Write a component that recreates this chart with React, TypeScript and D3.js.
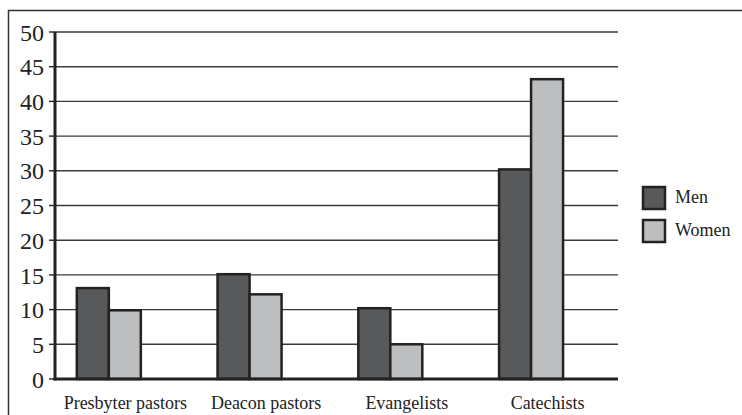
import React from "react";
import * as d3 from "d3";

const categories = ["Presbyter pastors", "Deacon pastors", "Evangelists", "Catechists"];
const seriesNames = ["Men", "Women"];
const menValues = [13.1, 15.1, 10.2, 30.2];
const womenValues = [9.9, 12.2, 5.0, 43.2];
const yTicks = [0, 5, 10, 15, 20, 25, 30, 35, 40, 45, 50];
const colors = ["#58595b", "#bcbec0"];

const W = 742;
const H = 415;
const FONT = "Liberation Serif, Tinos, serif";

export default function App() {
  const x = d3.scaleBand<string>().domain(categories).range([55, 618]);
  const y = d3.scaleLinear().domain([0, 50]).range([379, 32]);
  const bw = x.bandwidth();
  const barW = 32;
  const offset = bw * 0.155;
  const series = [menValues, womenValues];

  return (
    <svg
      width={W}
      height={H}
      style={{ position: "absolute", left: 0, top: 0, background: "#fff" }}
    >
      {/* frame */}
      <path d={`M8.5,${H} L8.5,10.5 L${W},10.5`} fill="none" stroke="#333" strokeWidth={1.5} />
      {/* gridlines */}
      {yTicks.filter((t) => t > 0).map((t) => (
        <line key={"g" + t} x1={55} x2={618} y1={y(t)} y2={y(t)} stroke="#3a3a3a" strokeWidth={1.4} />
      ))}
      {/* tick marks & labels */}
      {yTicks.map((t) => (
        <g key={"t" + t}>
          <line x1={49} x2={55} y1={y(t)} y2={y(t)} stroke="#222" strokeWidth={1.4} />
          <text x={44} y={y(t)} dy="0.36em" textAnchor="end" fontSize={24} fill="#222" style={{ fontFamily: FONT }}>
            {t}
          </text>
        </g>
      ))}
      {/* bars */}
      {categories.map((c, i) =>
        series.map((vals, s) => (
          <rect
            key={c + s}
            x={(x(c) as number) + offset + s * barW}
            y={y(vals[i])}
            width={barW}
            height={y(0) - y(vals[i])}
            fill={colors[s]}
            stroke="#222"
            strokeWidth={2.5}
          />
        ))
      )}
      {/* axes */}
      <line x1={55} x2={55} y1={y(50)} y2={y(0) + 1.5} stroke="#222" strokeWidth={3} />
      <line x1={53.5} x2={618} y1={y(0)} y2={y(0)} stroke="#222" strokeWidth={3} />
      {/* category labels */}
      {categories.map((c) => (
        <text key={"l" + c} x={(x(c) as number) + bw / 2} y={409} textAnchor="middle" fontSize={18} fill="#222" style={{ fontFamily: FONT }}>
          {c}
        </text>
      ))}
      {/* legend */}
      {seriesNames.map((n, i) => (
        <g key={"lg" + n} transform={`translate(643,${187 + i * 33})`}>
          <rect x={0} y={0} width={22} height={22} fill={colors[i]} stroke="#222" strokeWidth={2.5} />
          <text x={32} y={16} fontSize={18} fill="#222" style={{ fontFamily: FONT }}>
            {n}
          </text>
        </g>
      ))}
    </svg>
  );
}
